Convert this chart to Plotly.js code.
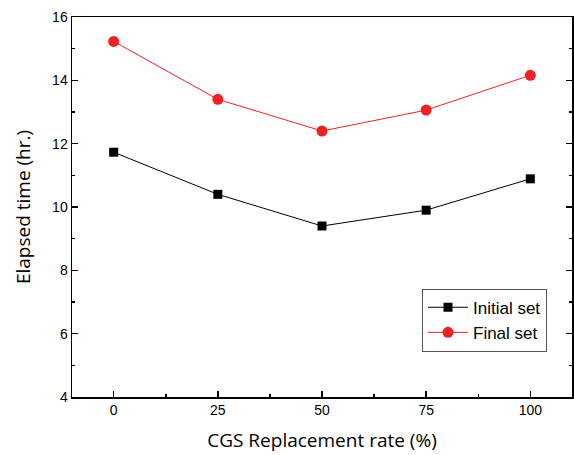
<!DOCTYPE html>
<html>
<head>
<meta charset="utf-8">
<script src="https://cdn.plot.ly/plotly-3.0.1.min.js"></script>
<style>html,body{margin:0;padding:0;background:#fff;}#chart{width:574px;height:455px;}</style>
</head>
<body>
<div id="chart"></div>
<script>
var replacementRate = [0, 25, 50, 75, 100];
var initialSet = [11.73, 10.40, 9.40, 9.90, 10.89];
var finalSet = [15.23, 13.40, 12.40, 13.06, 14.16];
var xTickVals = [0, 25, 50, 75, 100];
var yTickVals = [4, 6, 8, 10, 12, 14, 16];

var traces = [
  {x: replacementRate, y: initialSet, name: 'Initial set', type: 'scatter', mode: 'lines+markers',
   line: {color: '#000000', width: 1}, marker: {symbol: 'square', size: 9, color: '#000000'}},
  {x: replacementRate, y: finalSet, name: 'Final set', type: 'scatter', mode: 'lines+markers',
   line: {color: '#ee2222', width: 1}, marker: {symbol: 'circle', size: 11, color: '#ee2222'}}
];

var layout = {
  width: 574, height: 455,
  margin: {l: 72, r: 2, t: 17, b: 58},
  paper_bgcolor: '#ffffff', plot_bgcolor: '#ffffff',
  showlegend: true,
  legend: {x: 0.70, y: 0.285, xanchor: 'left', yanchor: 'top', bgcolor: '#ffffff',
           bordercolor: '#555555', borderwidth: 1, font: {family: 'Liberation Sans, Arial', size: 17, color: '#000'},
           tracegroupgap: 0, itemwidth: 40},
  xaxis: {
    range: [-10, 110], tickvals: xTickVals, ticktext: xTickVals.map(String),
    ticks: 'inside', ticklen: 6, tickwidth: 1.5, tickcolor: '#000',
    minor: {tickvals: [12.5, 37.5, 62.5, 87.5], ticks: 'inside', ticklen: 3, tickcolor: '#000'},
    showline: true, linecolor: '#000', linewidth: 1.5, mirror: true,
    showgrid: false, zeroline: false,
    tickfont: {family: 'Liberation Sans, Arial', size: 14, color: '#000'},
    title: {text: 'CGS Replacement rate (%)', font: {family: 'Open Sans', size: 19, color: '#000'}, standoff: 16}
  },
  yaxis: {
    range: [4, 16], tickvals: yTickVals, ticktext: yTickVals.map(String),
    ticks: 'inside', ticklen: 6, tickwidth: 1.5, tickcolor: '#000',
    minor: {tickvals: [5, 7, 9, 11, 13, 15], ticks: 'inside', ticklen: 3, tickcolor: '#000'},
    showline: true, linecolor: '#000', linewidth: 1.5, mirror: 'ticks',
    showgrid: false, zeroline: false,
    tickfont: {family: 'Liberation Sans, Arial', size: 14, color: '#000'},
    title: {text: 'Elapsed time (hr.)', font: {family: 'Open Sans', size: 19, color: '#000'}, standoff: 16}
  }
};

Plotly.newPlot('chart', traces, layout, {displayModeBar: false, staticPlot: true});
</script>
</body>
</html>
